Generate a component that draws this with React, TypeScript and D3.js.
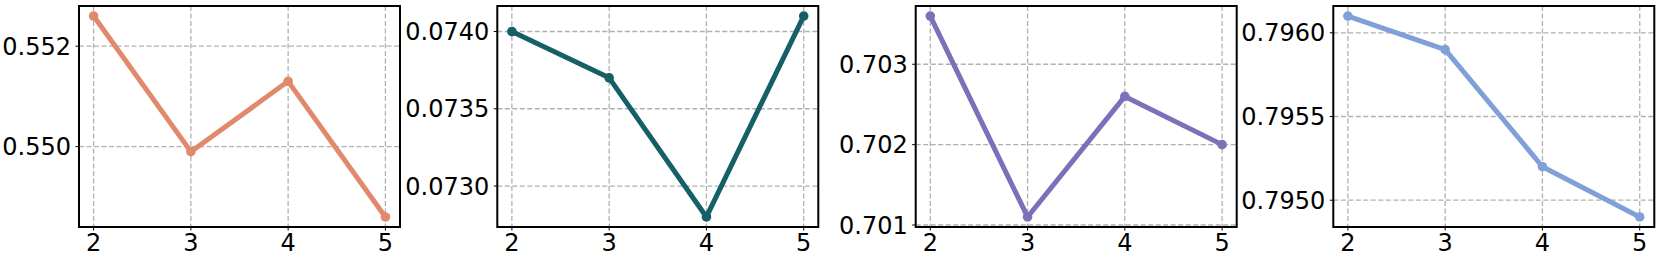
import React from 'react'
import * as d3 from 'd3'

const steps = [2, 3, 4, 5]

const seriesA = [0.5526, 0.5499, 0.5513, 0.5486]
const seriesB = [0.0740, 0.0737, 0.0728, 0.0741]
const seriesC = [0.7036, 0.7011, 0.7026, 0.7020]
const seriesD = [0.7961, 0.7959, 0.7952, 0.7949]

const ticksA = [0.550, 0.552]
const ticksB = [0.0730, 0.0735, 0.0740]
const ticksC = [0.701, 0.702, 0.703]
const ticksD = [0.7950, 0.7955, 0.7960]

const panels = [
  { values: seriesA, ticks: ticksA, fmt: '.3f', color: '#E0896C', left: 79 },
  { values: seriesB, ticks: ticksB, fmt: '.4f', color: '#155F67', left: 497.3 },
  { values: seriesC, ticks: ticksC, fmt: '.3f', color: '#7A72B8', left: 915.7 },
  { values: seriesD, ticks: ticksD, fmt: '.4f', color: '#7FA0D8', left: 1333.3 },
]

const W = 1661
const H = 263
const plotW = 321
const top = 6
const bottom = 227
const font = 'DejaVu Sans, sans-serif'
const fontSize = 24

// matplotlib style 5% padding around the data
const padded = (lo: number, hi: number) => {
  const m = (hi - lo) * 0.05
  return [lo - m, hi + m]
}

const Panel = ({ p }: { p: typeof panels[number] }) => {
  const [xlo, xhi] = padded(d3.min(steps)!, d3.max(steps)!)
  const [ylo, yhi] = padded(d3.min(p.values)!, d3.max(p.values)!)
  const x = d3.scaleLinear().domain([xlo, xhi]).range([0, plotW])
  const y = d3.scaleLinear().domain([ylo, yhi]).range([bottom - top, 0])
  const h = bottom - top
  const line = d3.line<number>()
    .x((_, i) => x(steps[i]))
    .y((d) => y(d))
  const fmt = d3.format(p.fmt)

  return (
    <g transform={`translate(${p.left},${top})`}>
      {steps.map((s) => (
        <line key={`gx${s}`} x1={x(s)} x2={x(s)} y1={0} y2={h}
          stroke="#b0b0b0" strokeWidth={1.3} strokeDasharray="5,2.5" />
      ))}
      {p.ticks.map((t) => (
        <line key={`gy${t}`} x1={0} x2={plotW} y1={y(t)} y2={y(t)}
          stroke="#b0b0b0" strokeWidth={1.3} strokeDasharray="5,2.5" />
      ))}
      <path d={line(p.values) ?? ''} fill="none" stroke={p.color}
        strokeWidth={5} strokeLinejoin="round" strokeLinecap="butt" />
      {p.values.map((v, i) => (
        <circle key={i} cx={x(steps[i])} cy={y(v)} r={4.8} fill={p.color} />
      ))}
      <rect x={0} y={0} width={plotW} height={h} fill="none" stroke="#000" strokeWidth={2} />
      {steps.map((s) => (
        <g key={`tx${s}`} transform={`translate(${x(s)},${h})`}>
          <line y1={0} y2={3.5} stroke="#000" strokeWidth={1} />
          <text y={24} textAnchor="middle" fontSize={fontSize} fontFamily={font} fill="#000">{s}</text>
        </g>
      ))}
      {p.ticks.map((t) => (
        <g key={`ty${t}`} transform={`translate(0,${y(t)})`}>
          <line x1={0} x2={-3.5} stroke="#000" strokeWidth={1} />
          <text x={-8} dy="0.36em" textAnchor="end" fontSize={fontSize} fontFamily={font} fill="#000">{fmt(t)}</text>
        </g>
      ))}
    </g>
  )
}

export default function App() {
  return (
    <svg width={W} height={H} style={{ position: 'absolute', left: 0, top: 0, background: '#fff' }}>
      <rect width={W} height={H} fill="#fff" />
      {panels.map((p, i) => <Panel key={i} p={p} />)}
    </svg>
  )
}
